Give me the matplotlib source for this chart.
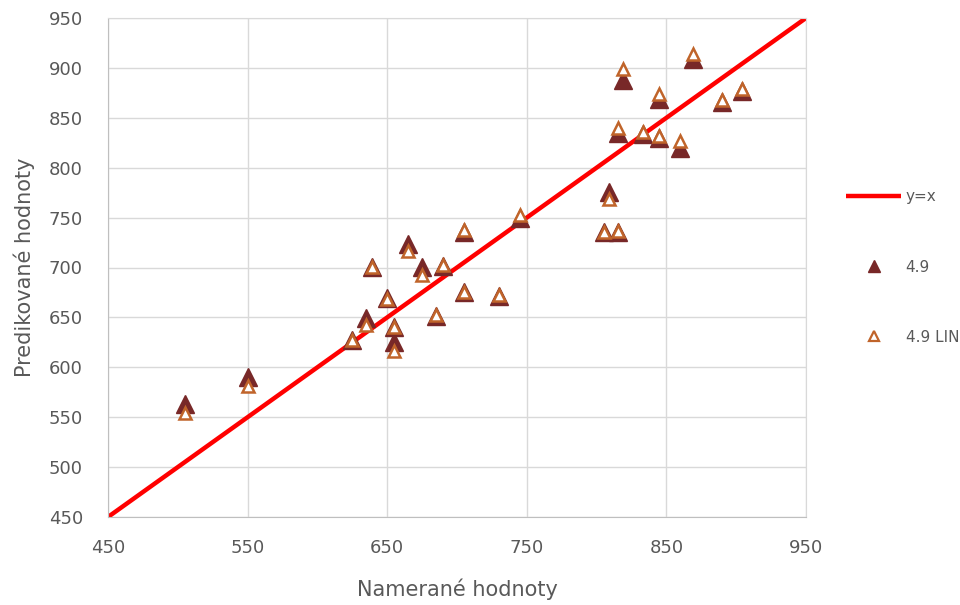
import matplotlib
matplotlib.use("Agg")
import matplotlib.pyplot as plt
import numpy as np

plt.rcParams['font.family'] = ['DejaVu Sans']

# Data
measured = [505, 550, 625, 635, 639, 650, 655, 655, 665, 675, 685, 690, 705, 705,
            730, 745, 805, 809, 815, 815, 819, 833, 845, 845, 860, 869, 890, 904]
pred_49 = [563, 590, 627, 649, 701, 669, 640, 625, 724, 701, 651, 702, 736, 675,
           671, 750, 736, 776, 736, 835, 888, 834, 869, 830, 820, 909, 866, 877]
pred_49_lin = [554, 581, 627, 642, 701, 668, 640, 616, 717, 692, 652, 703, 738, 675,
               672, 753, 736, 769, 737, 840, 899, 836, 874, 832, 827, 914, 868, 879]
identity = [450, 950]
ticks = [450, 550, 650, 750, 850, 950]
yticks = [450, 500, 550, 600, 650, 700, 750, 800, 850, 900, 950]

fig = plt.figure(figsize=(9.6, 6.05), dpi=100)
ax = fig.add_axes([108/960, 1-517/605, (806-108)/960, (517-18)/605])

txt = '#595959'
grid = '#D9D9D9'

ax.plot(identity, identity, color='#FF0000', lw=3.2, label='y=x', zorder=2,
        solid_capstyle='butt')
ax.plot(measured, pred_49, ls='none', marker='^', ms=13, color='#782828',
        mec='#782828', label='4.9', zorder=3)
ax.plot(measured, pred_49_lin, ls='none', marker='^', ms=9, mfc='white',
        mec='#C0642A', mew=1.8, label='4.9 LIN', zorder=4)

ax.set_xlim(450, 950)
ax.set_ylim(450, 950)
ax.set_xticks(ticks)
ax.set_yticks(yticks)
ax.grid(True, color=grid, lw=1)
ax.set_axisbelow(True)
for s in ax.spines.values():
    s.set_color(grid)
ax.spines['left'].set_color('#BFBFBF')
ax.spines['bottom'].set_color('#BFBFBF')
ax.tick_params(length=0, labelsize=13, labelcolor=txt)
ax.tick_params(axis='y', pad=18)
ax.tick_params(axis='x', pad=16)
ax.set_xlabel('Namerané hodnoty', fontsize=15, color=txt, labelpad=15)
ax.set_ylabel('Predikované hodnoty', fontsize=15, color=txt, labelpad=10)

leg = fig.legend(loc='center left', bbox_to_anchor=(846/960, 1-267/605),
                 frameon=False, fontsize=11, labelspacing=3.6,
                 handlelength=3.6, handletextpad=0.3, borderpad=0, borderaxespad=0)
handles = leg.legend_handles
handles[1].set_markersize(8)
handles[2].set_markersize(7.5)
handles[2].set_markeredgewidth(1.6)
for t in leg.get_texts():
    t.set_color(txt)

fig.savefig('out.png', dpi=100)
